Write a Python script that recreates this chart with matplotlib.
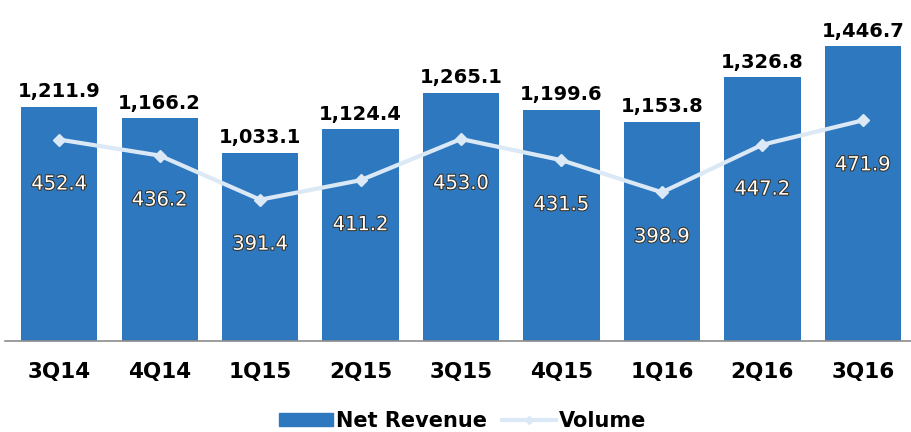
import matplotlib
matplotlib.use("Agg")
import matplotlib.pyplot as plt
import matplotlib.patheffects as pe
from matplotlib.lines import Line2D
from matplotlib.patches import Patch

quarters = ["3Q14", "4Q14", "1Q15", "2Q15", "3Q15", "4Q15", "1Q16", "2Q16", "3Q16"]
net_revenue = [1211.9, 1166.2, 1033.1, 1124.4, 1265.1, 1199.6, 1153.8, 1326.8, 1446.7]
volume = [452.4, 436.2, 391.4, 411.2, 453.0, 431.5, 398.9, 447.2, 471.9]

bar_color = "#2e78c0"
line_color = "#dbe8f5"

fig = plt.figure(figsize=(9.11, 4.32), dpi=100)
ax = fig.add_axes([0.0055, 0.2106, 0.9945, 0.714])
ax2 = ax.twinx()

x = list(range(len(quarters)))
ax.bar(x, net_revenue, width=0.76, color=bar_color, zorder=2)
ax.set_ylim(300, 1500)
ax.set_xlim(-0.54, 8.48)

# revenue values above the bars
for xi, v in zip(x, net_revenue):
    ax.annotate(f"{v:,.1f}", (xi, v), xytext=(0, 4), textcoords="offset points",
                ha="center", va="bottom", fontsize=14, fontweight="bold",
                color="black")

ax2.plot(x, volume, color=line_color, lw=3, marker="D", markersize=6,
         markerfacecolor=line_color, markeredgecolor=line_color, zorder=3)
ax2.set_ylim(248, 561)

# volume values, white with a dark edge, under each point
for xi, v in zip(x, volume):
    t = ax2.annotate(f"{v:.1f}", (xi, v), xytext=(0, -32), textcoords="offset points",
                     ha="center", va="center", fontsize=14, color="white")
    t.set_path_effects([pe.withStroke(linewidth=1.5, foreground="#3a3020")])

for a in (ax, ax2):
    for s in ("top", "left", "right"):
        a.spines[s].set_visible(False)
    a.set_yticks([])
ax2.spines["bottom"].set_visible(False)
ax.spines["bottom"].set_color("#8c8c8c")
ax.spines["bottom"].set_linewidth(1.2)

ax.set_xticks(x)
ax.set_xticklabels(quarters, fontweight="bold", fontsize=15.5)
ax.tick_params(axis="x", length=0, pad=15)

handles = [Patch(facecolor=bar_color, edgecolor=bar_color),
           Line2D([0], [0], color=line_color, lw=3, marker="D", markersize=4)]
fig.legend(handles, ["Net Revenue", "Volume"], loc="center", bbox_to_anchor=(0.508, 0.025),
           ncol=2, frameon=False, prop={"weight": "bold", "size": 15},
           handlelength=2.6, handleheight=0.6, handletextpad=0.15, columnspacing=0.7)

fig.savefig("out.png", dpi=100)
